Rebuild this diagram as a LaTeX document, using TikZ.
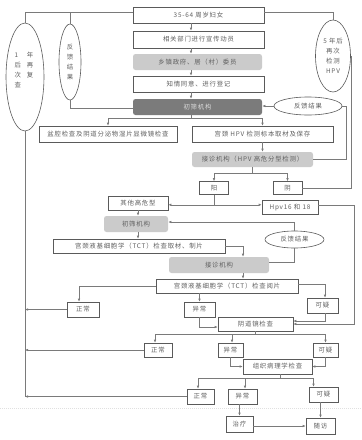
\documentclass[tikz,border=0pt]{standalone}
\usepackage{fontspec}
\setmainfont{Noto Sans CJK SC}[LetterSpace=12]
\usetikzlibrary{arrows.meta,shapes.geometric}
\definecolor{txtc}{HTML}{606060}
\definecolor{bordc}{HTML}{5A5A5A}
\definecolor{linec}{HTML}{7A7A7A}
\definecolor{lgrey}{HTML}{CBCBCB}
\definecolor{dgrey}{HTML}{7B7B7B}
\definecolor{dtext}{HTML}{DADADA}
\newcommand\fs{\fontsize{6.4}{10}\selectfont}
\tikzset{
 sz/.style 2 args={minimum width=#1pt, minimum height=#2pt},
 bx/.style={draw=bordc, line width=0.6pt, fill=white, inner sep=0pt, text=txtc, font=\fs},
 gbx/.style={bx, draw=none, fill=lgrey, rounded corners=2.5pt},
 dbx/.style={bx, draw=none, fill=dgrey, rounded corners=2.5pt, text=dtext},
 ell/.style={ellipse, draw=bordc, line width=0.6pt, inner sep=0pt, text=txtc, font=\fs, align=center},
 txtnode/.style={inner sep=0pt, text=txtc, font=\fs},
 ln/.style={draw=linec, line width=0.6pt},
 ar/.style={ln, -{Latex[length=3pt,width=2.6pt]}},
}
\begin{document}
\begin{tikzpicture}[x=1pt,y=-1pt]
\useasboundingbox (0,0) rectangle (362,440);
\draw[black!12, line width=0.4pt, dash pattern=on 1pt off 1pt] (0,408) -- (362,408);
% nodes
\node[bx,sz={131}{16}] (top) at (198.5,15) {35-64 周岁妇女};
\node[bx,sz={131}{17}] (pub) at (198.5,39.5) {相关部门进行宣传动员};
\node[gbx,sz={129}{16}] (gov) at (197.5,62) {乡镇政府、居（村）委员};
\node[bx,sz={131}{16}] (cons) at (198.5,84) {知情同意、进行登记};
\node[dbx,sz={129}{16}] (cs1) at (197.5,107) {初筛机构};
\node[ell,sz={68}{18}] (fbr) at (308,106) {反馈结果};
\node[ell,sz={38}{108}] (e1) at (25,77) {};
\node[txtnode] (e1t) at (24,70) {\begin{tabular}{@{}l@{\hspace{6pt}}l@{}}1&年\\后&再\\次&复\\查&\end{tabular}};
\node[ell,sz={22}{76}] (e2) at (70,62) {反\\馈\\结\\果};
\node[ell,sz={35}{72}] (e5) at (333,56) {5 年后\\再次\\检测\\HPV};
\node[bx,sz={138}{16}] (pen) at (108,134) {盆腔检查及阴道分泌物湿片显微镜检查};
\node[bx,sz={141}{16}] (hpvs) at (262.5,134) {宫颈 HPV 检测标本取材及保存};
\node[gbx,sz={121}{15}] (jz1) at (252.5,159.5) {接诊机构（HPV 高危分型检测）};
\node[bx,sz={29}{13}] (yang) at (214,188) {阳};
\node[bx,sz={29}{13}] (yin) at (287.5,188) {阴};
\node[bx,sz={60}{14}] (oth) at (138,203) {其他高危型};
\node[bx,sz={56}{14}] (h16) at (290,207.5) {Hpv16 和 18};
\node[gbx,sz={64}{16}] (cs2) at (136,224) {初筛机构};
\node[ell,sz={59}{17}] (fb2) at (294.5,239.5) {反馈结果};
\node[bx,sz={172}{14}] (tct1) at (139,246) {宫颈液基细胞学（TCT）检查取材、制片};
\node[gbx,sz={100}{16}] (jz2) at (219,265) {接诊机构};
\node[bx,sz={142}{14}] (tct2) at (227,286) {宫颈液基细胞学（TCT）检查阅片};
\node[bx,sz={32}{15}] (n1) at (83,309.5) {正常};
\node[bx,sz={31}{15}] (a1) at (199.5,309.5) {异常};
\node[bx,sz={31}{15}] (k1) at (322.5,305.5) {可疑};
\node[bx,sz={75}{14}] (col) at (255.5,324) {阴道镜检查};
\node[bx,sz={28}{14}] (n2) at (158,350) {正常};
\node[bx,sz={25}{14}] (a2) at (230.5,350) {异常};
\node[bx,sz={25}{14}] (k2) at (325.5,350) {可疑};
\node[bx,sz={69}{15}] (pat) at (277.5,366.5) {组织病理学检查};
\node[bx,sz={27}{15}] (n3) at (200.5,396.5) {正常};
\node[bx,sz={29}{15}] (a3) at (242.5,396.5) {异常};
\node[bx,sz={29}{15}] (k3) at (323.5,394.5) {可疑};
\node[bx,sz={27}{16}] (trt) at (239.5,424) {治疗};
\node[bx,sz={29}{16}] (fol) at (320.5,426) {随访};
% connectors
\coordinate (ax) at (191,0);
\draw[ar] (top.south -| ax) -- (pub.north -| ax);
\draw[ar] (pub.south -| ax) -- (gov.north -| ax);
\draw[ar] (gov.south -| ax) -- (cons.north -| ax);
\draw[ar] (cons.south -| ax) -- (cs1.north -| ax);
\coordinate (tl) at ([yshift=3pt]top.west);
\coordinate (tr) at ([yshift=3pt]top.east);
\draw[ln] (tl) -| (e1.north);
\draw[ln] (e2.north) -- (e2.north |- tl);
\draw[ln] (tr) -| (e5.north);
\draw[ln] (e2.south) |- ([yshift=-1pt]cs1.west);
\draw[ln] (e1.south) -- (e1.south |- n3.west);
\draw[ar] (n1.west) -- (n1.west -| e1.south);
\draw[ar] (n2.west) -- (n2.west -| e1.south);
\draw[ar] (n3.west) -- (n3.west -| e1.south);
\draw[ar] (fbr.west) -- (fbr.west -| cs1.east);
\draw[ln] (cs1.south -| ax) -- ++(0,3) coordinate (b1);
\draw[ar] (b1) -| (pen.north);
\draw[ar] (b1) -| (hpvs.north);
\draw[ar] (hpvs.south) -- (hpvs.south |- jz1.north);
\draw[ln] (jz1.south) -- ++(0,6) coordinate (b2);
\draw[ar] (b2) -| (yang.north);
\draw[ar] (b2) -| (yin.north);
\coordinate (xin) at (346,0);
\draw[ln] (jz1.east) -| (xin |- fbr.east) -- (fbr.east);
\draw[ln] (yin.east) -| (e5.east);
\draw[ln] (yang.south) -- ++(0,10) coordinate (b3);
\draw[ar] (b3) -- (b3 -| oth.east);
\draw[ar] (b3) -- (b3 -| h16.west);
\coordinate (xo) at (354,0);
\draw[ar] ([yshift=2.5pt]h16.east) -| (xo |- col.east) -- (col.east);
\draw[ar] (oth.south) -- (oth.south |- cs2.north);
\draw[ar] (cs2.south -| oth.south) -- (tct1.north -| oth.south);
\draw[ar] (fb2.north) |- ([yshift=2pt]cs2.east);
\coordinate (xj) at (243,0);
\draw[ar] (tct1.east) -| (xj |- jz2.north);
\draw[ar] (xj |- jz2.south) -- (xj |- tct2.north);
\draw[ln] ([yshift=3pt]jz2.east) -| (fb2.south);
\draw[ar] (tct2.west) -| ([xshift=-4pt]n1.north);
\draw[ar] (a1.north |- tct2.south) -- (a1.north);
\draw[ar] ([yshift=2pt]tct2.east) -| ([xshift=2.5pt]k1.north);
\draw[ar] (a1.south) |- ([yshift=-3pt]col.west);
\draw[ar] ([xshift=2.5pt]k1.south) |- ([yshift=3pt]col.east);
\draw[ln] (col.south) -- ++(0,3) coordinate (b4);
\draw[ar] (b4) -| ([xshift=-3pt]n2.north);
\draw[ar] (b4) -| ([xshift=1.5pt]a2.north);
\draw[ar] (b4) -| (k2.north);
\draw[ar] (a2.south) |- (pat.west);
\draw[ar] (k2.south) |- (pat.east);
\draw[ln] ([xshift=2.5pt]pat.south) -- ++(0,4) coordinate (b5);
\draw[ar] (b5) -| ([xshift=-2.5pt]n3.north);
\draw[ar] (b5) -| ([xshift=2.5pt]a3.north);
\draw[ar] (b5) -| ([xshift=-10pt]k3.north);
\draw[ar] (trt.north |- a3.south) -- (trt.north);
\draw[ar] (fol.north |- k3.south) -- (fol.north);
\draw[ar] (fol.west -| trt.east) -- (fol.west);
\end{tikzpicture}
\end{document}
